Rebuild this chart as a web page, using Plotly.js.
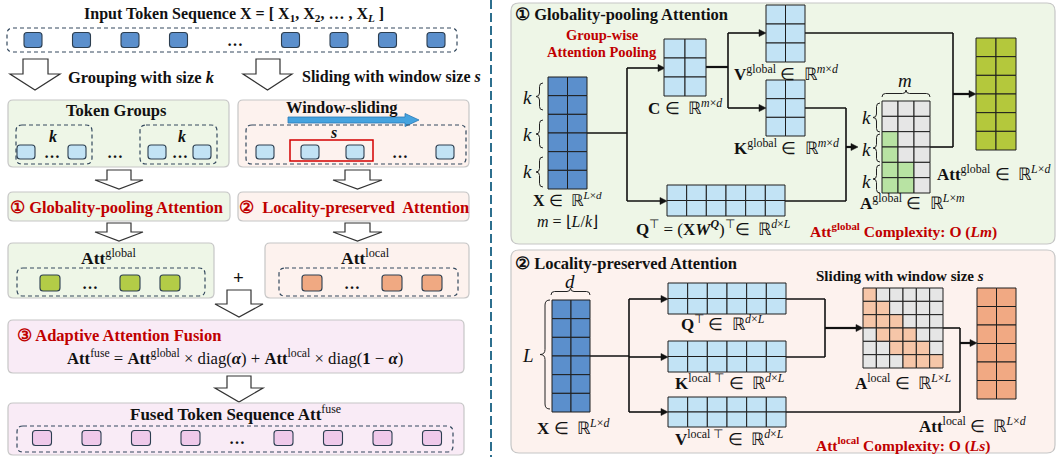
<!DOCTYPE html>
<html><head><meta charset="utf-8">
<script src="https://cdn.plot.ly/plotly-3.0.1.min.js"></script>
<style>html,body{margin:0;padding:0;background:#fff}#chart{width:1058px;height:457px}</style>
</head><body><div id="chart"></div>
<script>
// ---------- data ----------
const inputSeq  = ['tok','tok','tok','tok','dots','tok','tok','tok','tok'];
const fusedSeq  = ['tok','tok','tok','tok','dots','tok','tok','tok','tok'];
const windowSeq = ['tok','tok','tok','dots','tok'];
const globalSeq = ['tok','dots','tok','tok'];
const localSeq  = ['tok','dots','tok','tok'];
const groupSeq  = ['tok','dots','tok'];
const globalMask = [[0,0,0],[0,0,0],[1,0,0],[1,0,0],[1,1,0],[1,1,0]];
const localMask  = [[1,0,0,0,0,0],[1,1,0,0,0,0],[1,1,1,0,0,0],[0,1,1,1,0,0],[0,0,1,1,1,0],[0,0,0,1,1,1]];
const matDims = {X:[2,6], C:[2,3], V:[2,3], K:[2,3], QT:[6,2], Aglobal:[3,6], Att:[2,6], Alocal:[6,6]};
const leftTitles = {
  input:'Input Token Sequence X = [ X<sub>1</sub>, X<sub>2</sub>, … , X<sub><i>L</i></sub> ]',
  grouping:'Grouping with size <i>k</i>', sliding:'Sliding with window size <i>s</i>',
  groups:'Token Groups', window:'Window-sliding',
  gpa:'① Globality-pooling Attention', lpa:'②  Locality-preserved  Attention',
  fusion:'③ Adaptive Attention Fusion'
};
const groupLetters = ['k','k','k'];

// ---------- helpers ----------
const SERIF = 'Liberation Serif, Times New Roman, serif';
const C = {green:'#eef6e7', pink:'#fdf2ee', purple:'#f9ebf6', dark:'#5b8fcc', light:'#c2e3f5',
  gTok:'#b3cc47', oTok:'#f0a982', pTok:'#efc9ea', attG:'#b4c83c', attL:'#f1a983',
  maskG:'#b8e3a3', maskL:'#f6c6a8', gray:'#e6e6e6', red:'#c00000'};
const shapes = [], ann = [];
const E = '&nbsp;∈&nbsp;&nbsp;ℝ';
function path(d, fill, color, width, dash){
  shapes.push({type:'path', xref:'x', yref:'y', path:d, fillcolor: fill || 'rgba(0,0,0,0)',
    line:{color: color || 'rgba(0,0,0,0)', width: width == null ? 1 : width, dash: dash || 'solid'}});
}
function rr(x0,y0,x1,y1,r){
  return `M${x0+r},${y0} L${x1-r},${y0} Q${x1},${y0} ${x1},${y0+r} L${x1},${y1-r} Q${x1},${y1} ${x1-r},${y1} L${x0+r},${y1} Q${x0},${y1} ${x0},${y1-r} L${x0},${y0+r} Q${x0},${y0} ${x0+r},${y0} Z`;
}
function box(x0,y0,x1,y1,fill,r){ path(rr(x0,y0,x1,y1,r||5), fill, '#c6c6c6', 1.2); }
function dbox(x0,y0,x1,y1){ path(rr(x0,y0,x1,y1,6), null, '#34495e', 1.2, '4px,3px'); }
function rect(x0,y0,x1,y1,fill,color,width){
  shapes.push({type:'rect', xref:'x', yref:'y', x0, y0, x1, y1, fillcolor: fill, line:{color, width}});
}
function seg(x0,y0,x1,y1,w,color,dash){
  shapes.push({type:'line', xref:'x', yref:'y', x0, y0, x1, y1, line:{color: color || '#111', width: w || 1.6, dash: dash || 'solid'}});
}
function head(x,y){ path(`M${x},${y} L${x-7},${y-3.5} L${x-7},${y+3.5} Z`, '#111', '#111', 0.5); }
function bigArrow(x0,x1,sx0,sx1,top,yh,tip){
  path(`M${sx0},${top} L${sx1},${top} L${sx1},${yh} L${x1},${yh} L${(x0+x1)/2},${tip} L${x0},${yh} L${sx0},${yh} Z`, '#fff', '#333', 1.2);
}
function braceV(xr,y0,y1,w){
  const xm = xr - w/2, xl = xr - w, ym = (y0+y1)/2, r = Math.min(w/2, (y1-y0)/5);
  path(`M${xr},${y0} Q${xm},${y0} ${xm},${y0+r} L${xm},${ym-r} Q${xm},${ym} ${xl},${ym} Q${xm},${ym} ${xm},${ym+r} L${xm},${y1-r} Q${xm},${y1} ${xr},${y1}`, null, '#222', 1);
}
function braceH(x0,x1,yb,h){
  const ym = yb - h/2, yt = yb - h, xm = (x0+x1)/2, r = h/2;
  path(`M${x0},${yb} Q${x0},${ym} ${x0+r},${ym} L${xm-r},${ym} Q${xm},${ym} ${xm},${yt} Q${xm},${ym} ${xm+r},${ym} L${x1-r},${ym} Q${x1},${ym} ${x1},${yb}`, null, '#222', 1);
}
function txt(x,y,t,size,o){
  o = o || {};
  ann.push({x, y, xref:'x', yref:'y', text:t, showarrow:false, xanchor:o.anchor || 'center', yanchor:'middle',
    align:'center', font:{family:SERIF, size, color:o.color || '#111'}});
}
function token(cx,cy,w,h,fill){ path(rr(cx-w/2,cy-h/2,cx+w/2,cy+h/2,3), fill, '#2c3e50', 1.1); }
function seq(items,x0,step,dotStep,cy,w,h,fill){
  let x = x0;
  items.forEach((it,i)=>{
    if(i>0) x += (it==='dots' || items[i-1]==='dots') ? dotStep : step;
    if(it==='dots') txt(x, cy, '<b>…</b>', 16); else token(x, cy, w, h, fill);
  });
}
function grid(x0,y0,x1,y1,dims,fillFn){
  const [cols,rows] = dims, cw = (x1-x0)/cols, ch = (y1-y0)/rows;
  for(let r=0;r<rows;r++) for(let c=0;c<cols;c++)
    rect(x0+c*cw, y0+r*ch, x0+(c+1)*cw, y0+(r+1)*ch, fillFn(r,c), '#1e1e1e', 1);
}
const sol = col => () => col;
const M = 17; // math label size

// ---------- left column ----------
txt(234, 14, '<b>'+leftTitles.input+'</b>', 16);
dbox(7,28,457,52);
seq(inputSeq, 33, 48.5, 56, 40, 18, 15, C.dark);
bigArrow(10,60,23,48,59,74,90); bigArrow(243,292,256,280,59,74,90);
txt(66, 77, '<b>'+leftTitles.grouping+'</b>', 16.5, {anchor:'left'});
txt(300, 77, '<b>'+leftTitles.sliding+'</b>', 16, {anchor:'left'});

box(8,100,229,167,C.green); box(238,100,469,167,C.pink);
txt(116, 110, '<b>'+leftTitles.groups+'</b>', 16.5);
dbox(16,125,92,164); dbox(140,125,217,164);
seq(groupSeq, 26, 25.5, 25.5, 152, 18, 14, C.light);
txt(115, 152, '<b>…</b>', 16);
seq(groupSeq, 157, 22.5, 22.5, 152, 18, 14, C.light);
txt(53, 136, '<b><i>k</i></b>', 16); txt(182, 136, '<b><i>k</i></b>', 16);

txt(342, 107, '<b>'+leftTitles.window+'</b>', 16.5);
path('M288,117 L405,117 L405,113.5 L419,120 L405,126.5 L405,123 L288,123 Z', '#45a3df', '#2a7ab5', 0.8);
dbox(246,125,466,164);
txt(333, 132, '<b><i>s</i></b>', 16);
rect(290,140,373,161,'rgba(0,0,0,0)','#d40000',1.5);
seq(windowSeq, 265, 45, 45, 152, 18, 14, C.light);

bigArrow(95,143,107,131,170,180,189); bigArrow(333,382,345,370,170,180,189);
box(8,192,230,221,C.green); box(238,192,469,221,C.pink);
txt(116, 207, '<b>'+leftTitles.gpa+'</b>', 16.5, {color:C.red});
txt(354, 207, '<b>'+leftTitles.lpa+'</b>', 16.5, {color:C.red});
bigArrow(95,143,107,131,223,232,241); bigArrow(333,382,345,370,223,232,241);

box(8,243,214,298,C.green); dbox(17,268,205,296);
txt(109, 257, '<b>Att</b><sup>global</sup>', 17.5);
seq(globalSeq, 50, 40, 40, 283, 20, 16, C.gTok);
box(265,243,469,298,C.pink); dbox(279,268,458,296);
txt(365, 257, '<b>Att</b><sup>local</sup>', 17.5);
seq(localSeq, 312, 40, 40, 283, 20, 16, C.oTok);
txt(238, 277, '<b>+</b>', 19);

bigArrow(215,263,227,251,290,304,317);
box(8,320,464,373,C.purple);
txt(15, 335, '<b>'+leftTitles.fusion+'</b>', 16.5, {anchor:'left', color:C.red});
txt(235, 357, '<b>Att</b><sup>fuse</sup> = <b>Att</b><sup>global</sup> × diag(<b><i>α</i></b>) + <b>Att</b><sup>local</sup> × diag(<b>1</b> − <b><i>α</i></b>)', 16.7);
bigArrow(215,263,227,251,376,388,402);
box(8,403,464,455,C.purple); dbox(17,426,453,452);
txt(235, 413, '<b>Fused Token Sequence Att</b><sup>fuse</sup>', 17);
seq(fusedSeq, 42, 49.5, 46.5, 438, 19, 15, C.pTok);

// divider
seg(491,0,491,457,2,'#2d6f8e','9px,4px');

// ---------- right top: globality-pooling ----------
box(511,3,1055,244,C.green,8);
txt(513, 14, '<b>① Globality-pooling Attention</b>', 16.5, {anchor:'left'});
txt(602, 35, '<b>Group-wise</b>', 14.5, {color:C.red});
txt(602, 52, '<b>Attention Pooling</b>', 14.5, {color:C.red});
seg(587,133,627,133); seg(627,68,627,201); seg(627,68,658,68); head(665,68); seg(627,201,660,201); head(667,201);
seg(706,67,728,67,2.2); seg(728,33,728,108); seg(728,33,759,33); head(766,33); seg(728,108,759,108); head(766,108);
seg(805,33,953,33); seg(953,33,953,147); seg(930,147,953,147); seg(953,94,969,94,2.2); head(976,94);
seg(805,108,846,108); seg(846,108,846,201); seg(785,201,846,201); seg(846,147,851,147,2.2); head(858,147);
grid(548,77,587,189,matDims.X,sol(C.dark));
braceV(543,83,110,7); braceV(543,120,148,7); braceV(543,157,187,7);
groupLetters.forEach((s,i)=>txt(527, 97+37*i, '<i>'+s+'</i>', 19));
txt(567, 199, '<b>X</b>'+E+'<sup><i>L</i>×<i>d</i></sup>', 16);
txt(567, 221, '<i>m</i> = ⌊<i>L</i>/<i>k</i>⌋', 16);
grid(664,39,706,96,matDims.C,sol(C.light));
txt(685, 107, '<b>C</b>'+E+'<sup><i>m</i>×<i>d</i></sup>', M);
grid(766,5,805,62,matDims.V,sol(C.light));
txt(732, 73, '<b>V</b><sup>global</sup>'+E+'<sup><i>m</i>×<i>d</i></sup>', M, {anchor:'left'});
grid(766,80,805,136,matDims.K,sol(C.light));
txt(732, 147, '<b>K</b><sup>global</sup>'+E+'<sup><i>m</i>×<i>d</i></sup>', M, {anchor:'left'});
grid(667,185,785,216,matDims.QT,sol(C.light));
txt(713, 228, '<b>Q</b><sup>⊤</sup> = (<b>X</b><b><i>W</i></b><sup><b><i>Q</i></b></sup>)<sup>⊤</sup>∈&nbsp;&nbsp;ℝ<sup><i>d</i>×<i>L</i></sup>', M);
grid(882,101,930,193,matDims.Aglobal,(r,c)=>globalMask[r][c]?C.maskG:C.gray);
braceH(882,930,97,7);
txt(905, 80, '<i>m</i>', 19);
braceV(880,103,132,7); braceV(880,134,162,7); braceV(880,165,193,7);
groupLetters.forEach((s,i)=>txt(866, 117+32*i, '<i>'+s+'</i>', 19));
txt(858, 202, '<b>A</b><sup>global</sup>'+E+'<sup><i>L</i>×<i>m</i></sup>', M, {anchor:'left'});
grid(976,38,1016,150,matDims.Att,sol(C.attG));
txt(935, 173, '<b>Att</b><sup>global</sup>'+E+'<sup><i>L</i>×<i>d</i></sup>', M, {anchor:'left'});
txt(903, 230, '<b>Att<sup>global</sup> Complexity: O (<i>Lm</i>)</b>', 15.5, {color:C.red});

// ---------- right bottom: locality-preserved ----------
box(511,250,1055,453,C.pink,8);
txt(513, 263, '<b>② Locality-preserved Attention</b>', 16.5, {anchor:'left'});
seg(590,356,629,356); seg(629,299,629,412);
seg(629,299,661,299); head(668,299); seg(629,357,661,357); head(668,357); seg(629,412,661,412); head(668,412);
seg(786,299,825,299); seg(825,299,825,357); seg(786,357,825,357); seg(825,328,856,328,2.2); head(863,328);
seg(943,328,960,328); seg(960,328,960,412); seg(786,412,960,412); seg(960,343,970,343,2.2); head(977,343);
grid(552,300,590,412,matDims.X,sol(C.dark));
braceH(551,590,295,7); txt(570, 281, '<i>d</i>', 19);
braceV(550,300,409,10); txt(528, 355, '<i>L</i>', 19);
txt(535, 427, '<b>X</b>'+E+'<sup><i>L</i>×<i>d</i></sup>', M, {anchor:'left'});
grid(668,283,786,314,matDims.QT,sol(C.light));
txt(679, 323, '<b>Q</b><sup>⊤</sup>'+E+'<sup><i>d</i>×<i>L</i></sup>', M, {anchor:'left'});
grid(668,341,786,372,matDims.QT,sol(C.light));
txt(673, 382, '<b>K</b><sup>local ⊤</sup>'+E+'<sup><i>d</i>×<i>L</i></sup>', M, {anchor:'left'});
grid(668,397,786,427,matDims.QT,sol(C.light));
txt(673, 438, '<b>V</b><sup>local ⊤</sup>'+E+'<sup><i>d</i>×<i>L</i></sup>', M, {anchor:'left'});
txt(900, 276, '<b>Sliding with window size <i>s</i></b>', 15);
grid(863,288,943,368,matDims.Alocal,(r,c)=>localMask[r][c]?C.maskL:C.gray);
txt(853, 382, '<b>A</b><sup>local</sup>'+E+'<sup><i>L</i>×<i>L</i></sup>', M, {anchor:'left'});
grid(977,288,1016,399,matDims.Att,sol(C.attL));
txt(917, 425, '<b>Att</b><sup>local</sup>'+E+'<sup><i>L</i>×<i>d</i></sup>', M, {anchor:'left'});
txt(903, 444, '<b>Att<sup>local</sup> Complexity: O (<i>Ls</i>)</b>', 15.5, {color:C.red});

// ---------- render ----------
const layout = {
  width:1058, height:457, margin:{l:0,r:0,t:0,b:0}, showlegend:false,
  paper_bgcolor:'#fff', plot_bgcolor:'#fff',
  xaxis:{range:[0,1058], visible:false, fixedrange:true},
  yaxis:{range:[457,0], visible:false, fixedrange:true},
  shapes, annotations:ann
};
Plotly.newPlot('chart', [{x:[0], y:[0], type:'scatter', mode:'markers', marker:{opacity:0}, hoverinfo:'skip'}], layout, {displayModeBar:false});
</script></body></html>
